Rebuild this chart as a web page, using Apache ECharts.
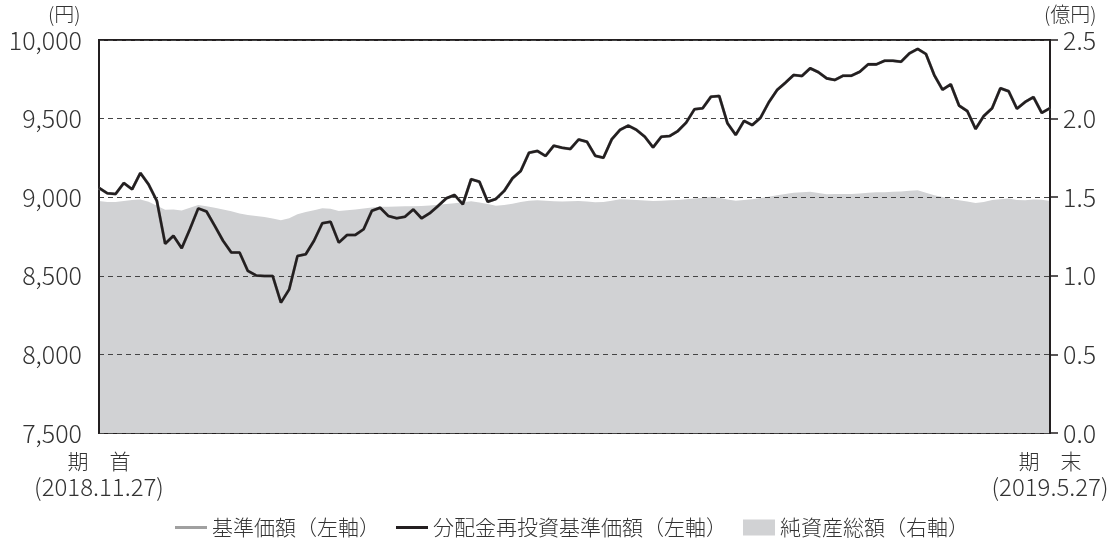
<!DOCTYPE html>
<html><head><meta charset="utf-8">
<script src="https://cdn.jsdelivr.net/npm/echarts@6/dist/echarts.min.js"></script>
<style>html,body{margin:0;padding:0;background:#fff}#c{width:1117px;height:543px}</style>
</head><body><div id="c"></div>
<script>
// 分配金再投資基準価額 (円) – daily values
const navReinvested = [
9059,9025,9020,9090,9050,9154,9081,8976,8704,8755,
8675,8798,8929,8909,8817,8723,8648,8648,8531,8502,
8499,8499,8329,8414,8626,8637,8723,8834,8844,8711,
8760,8760,8796,8914,8933,8880,8866,8876,8922,8866,
8898,8944,8993,9014,8955,9114,9099,8971,8989,9040,
9120,9167,9283,9294,9262,9328,9315,9307,9367,9353,
9264,9251,9368,9428,9455,9428,9385,9317,9385,9389,
9421,9474,9559,9566,9639,9644,9470,9396,9485,9459,
9506,9604,9682,9728,9777,9771,9820,9795,9756,9746,
9773,9773,9798,9845,9845,9868,9868,9862,9915,9943,
9911,9777,9684,9718,9583,9548,9434,9517,9566,9693,
9674,9563,9606,9637,9537,9566];
// 基準価額 (円) – no distributions in the period, identical to the line above
const navBase = navReinvested.slice();
// 純資産総額 (億円)
const netAssets = [
1.476,1.470,1.469,1.476,1.482,1.486,1.471,1.445,1.420,1.422,
1.416,1.433,1.451,1.443,1.433,1.421,1.410,1.397,1.386,1.380,
1.374,1.364,1.354,1.366,1.392,1.406,1.417,1.430,1.426,1.413,
1.417,1.422,1.428,1.434,1.440,1.440,1.441,1.442,1.443,1.444,
1.447,1.452,1.457,1.462,1.468,1.475,1.467,1.456,1.445,1.451,
1.459,1.469,1.478,1.481,1.478,1.474,1.473,1.475,1.476,1.473,
1.468,1.470,1.478,1.487,1.485,1.482,1.479,1.476,1.478,1.480,
1.482,1.487,1.492,1.497,1.503,1.496,1.486,1.478,1.482,1.487,
1.495,1.503,1.512,1.521,1.529,1.532,1.535,1.527,1.519,1.520,
1.520,1.521,1.524,1.529,1.531,1.532,1.534,1.536,1.541,1.545,
1.528,1.513,1.501,1.490,1.480,1.472,1.463,1.470,1.482,1.487,
1.492,1.482,1.481,1.485,1.483,1.476];
const startLabel = ['期　首', '(2018.11.27)'];
const endLabel = ['期　末', '(2019.5.27)'];
const categories = navReinvested.map((v, i) => i === 0 ? startLabel.join('\n') : (i === navReinvested.length - 1 ? endLabel.join('\n') : String(i)));
const seriesNames = ['基準価額（左軸）', '分配金再投資基準価額（左軸）', '純資産総額（右軸）'];
const leftTicks = [7500, 10000, 500];
const rightTicks = [0, 2.5, 0.5];

const FONT = '"Noto Sans CJK JP", "Noto Sans", sans-serif';
const TXT = '#333333';
const LINE_ICON = 'path://M0,0 H32 V3 H0 Z';
const chart = echarts.init(document.getElementById('c'), null, {renderer: 'canvas'});
chart.setOption({
  animation: false,
  textStyle: {fontFamily: FONT},
  grid: {left: 99, right: 67, top: 40, bottom: 110, show: true, borderColor: '#231f20', borderWidth: 2, backgroundColor: 'transparent'},
  graphic: [
    {type: 'text', left: 48, top: 4, style: {text: '(円)', font: '300 20px ' + FONT, fill: TXT}},
    {type: 'text', left: 1044, top: 4, style: {text: '(億円)', font: '300 20px ' + FONT, fill: TXT}}
  ],
  xAxis: {
    type: 'category', data: categories, boundaryGap: false,
    axisLine: {show: true, lineStyle: {color: '#231f20', width: 2}},
    axisTick: {show: false},
    axisLabel: {
      interval: (i) => i === 0 || i === categories.length - 1,
      color: TXT, fontWeight: 300, fontFamily: FONT, margin: 16,
      formatter: (v) => { const p = v.split('\n'); return '{a|' + p[0] + '}\n{b|' + p[1] + '}'; },
      rich: {
        a: {fontSize: 21, fontWeight: 300, fontFamily: FONT, color: TXT, lineHeight: 25},
        b: {fontSize: 24, fontWeight: 300, fontFamily: FONT, color: TXT, lineHeight: 26}
      }
    },
    splitLine: {show: false}
  },
  yAxis: [
    {
      type: 'value', min: leftTicks[0], max: leftTicks[1], interval: leftTicks[2], z: 3,
      axisLine: {show: true, lineStyle: {color: '#231f20', width: 2}},
      axisTick: {show: false},
      axisLabel: {color: TXT, fontSize: 25, fontWeight: 300, fontFamily: FONT, margin: 17,
        formatter: (v) => v.toLocaleString('en-US')},
      splitLine: {show: true, lineStyle: {color: '#444', type: [5, 4], width: 1}}
    },
    {
      type: 'value', min: rightTicks[0], max: rightTicks[1], interval: rightTicks[2], z: 3,
      position: 'right',
      axisLine: {show: true, lineStyle: {color: '#231f20', width: 2}},
      axisTick: {show: true, inside: false, length: 8, lineStyle: {color: '#231f20', width: 1.5}},
      axisLabel: {color: TXT, fontSize: 25, fontWeight: 300, fontFamily: FONT, margin: 13,
        formatter: (v) => v.toFixed(1)},
      splitLine: {show: false}
    }
  ],
  legend: {
    bottom: 0, left: 170, itemGap: 16, itemWidth: 32, itemHeight: 16,
    textStyle: {color: TXT, fontSize: 21, fontWeight: 300, fontFamily: FONT},
    data: [
      {name: seriesNames[0], icon: LINE_ICON, itemStyle: {color: '#a0a0a0'}},
      {name: seriesNames[1], icon: LINE_ICON, itemStyle: {color: '#231f20'}},
      {name: seriesNames[2], icon: 'rect', itemStyle: {color: '#d1d2d4'}}
    ]
  },
  series: [
    {
      name: seriesNames[2], type: 'line', yAxisIndex: 1, data: netAssets, z: 1,
      symbol: 'none', color: '#d1d2d4',
      lineStyle: {width: 0, color: '#d1d2d4'},
      areaStyle: {color: '#d1d2d4', opacity: 1},
      itemStyle: {color: '#d1d2d4'}
    },
    {
      name: seriesNames[0], type: 'line', yAxisIndex: 0, data: navBase, z: 4,
      symbol: 'none', color: '#a0a0a0',
      lineStyle: {width: 3, color: '#a0a0a0'}
    },
    {
      name: seriesNames[1], type: 'line', yAxisIndex: 0, data: navReinvested, z: 5,
      symbol: 'none', color: '#231f20',
      lineStyle: {width: 2.6, color: '#231f20'}
    }
  ]
});
</script></body></html>
